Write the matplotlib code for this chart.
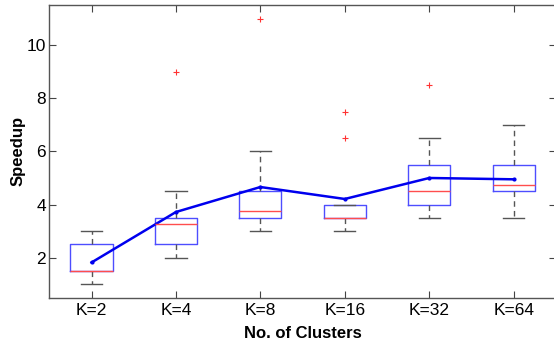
import matplotlib
matplotlib.use("Agg")
import matplotlib.pyplot as plt

plt.rcParams['font.family'] = ['Liberation Sans', 'DejaVu Sans']

labels = ['K=2', 'K=4', 'K=8', 'K=16', 'K=32', 'K=64']
q1 = [1.5, 2.5, 3.5, 3.5, 4.0, 4.5]
med = [1.5, 3.25, 3.75, 3.5, 4.5, 4.75]
q3 = [2.5, 3.5, 4.5, 4.0, 5.5, 5.5]
whislo = [1.0, 2.0, 3.0, 3.0, 3.5, 3.5]
whishi = [3.0, 4.5, 6.0, 4.0, 6.5, 7.0]
outliers = [[], [9.0], [11.0], [6.5, 7.5], [8.5], []]
means = [1.82, 3.72, 4.66, 4.21, 5.0, 4.95]

stats = []
for i in range(len(labels)):
    stats.append(dict(label=labels[i], q1=q1[i], med=med[i], q3=q3[i],
                      whislo=whislo[i], whishi=whishi[i], fliers=outliers[i]))

fig = plt.figure(figsize=(5.54, 3.44), dpi=100)
ax = fig.add_axes([0.089, 0.135, 0.9144, 0.8497])

pos = list(range(1, len(labels) + 1))
ax.bxp(stats, positions=pos, widths=0.5, capwidths=0.25, showfliers=True,
       boxprops=dict(color='#4d4dff', linewidth=1.0),
       medianprops=dict(color='#ff4d4d', linewidth=1.0),
       whiskerprops=dict(color='#555555', linestyle=(0, (4, 3)), linewidth=1.0),
       capprops=dict(color='#555555', linewidth=1.0),
       flierprops=dict(marker='+', markeredgecolor='#ff3333', markersize=4,
                       markeredgewidth=0.8, linestyle='none'))

ax.plot(pos, means, color='#0000ee', linewidth=1.8, marker='.', markersize=4)

ax.set_xlim(0.5, 6.5)
ax.set_ylim(0.5, 11.5)
ax.set_yticks([2, 4, 6, 8, 10])
ax.set_xticks(pos)
ax.set_xticklabels(labels)
ax.tick_params(direction='in', top=True, right=True, length=5, width=0.8,
               color='#444444', labelsize=12.5)
ax.tick_params(axis='x', pad=4)
ax.tick_params(axis='y', pad=2.5)
for s in ax.spines.values():
    s.set_color('#555555')
    s.set_linewidth(1.0)

ax.set_xlabel('No. of Clusters', fontsize=12, fontweight='bold', labelpad=5.5)
ax.set_ylabel('Speedup', fontsize=12, fontweight='bold', labelpad=1)

fig.savefig('out.png', dpi=100)
